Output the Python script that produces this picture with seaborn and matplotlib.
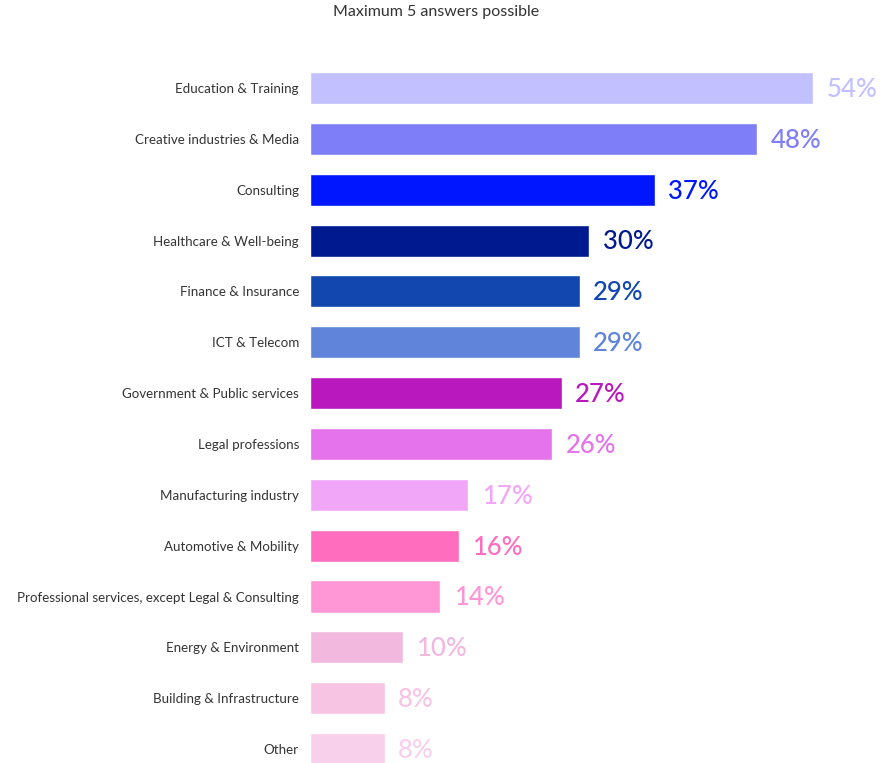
import matplotlib
matplotlib.use("Agg")
import matplotlib.pyplot as plt
import seaborn as sns
import pandas as pd

categories = [
    "Education & Training",
    "Creative industries & Media",
    "Consulting",
    "Healthcare & Well-being",
    "Finance & Insurance",
    "ICT & Telecom",
    "Government & Public services",
    "Legal professions",
    "Manufacturing industry",
    "Automotive & Mobility",
    "Professional services, except Legal & Consulting",
    "Energy & Environment",
    "Building & Infrastructure",
    "Other",
]
shares = [54, 48, 37, 30, 29, 29, 27, 26, 17, 16, 14, 10, 8, 8]
colors = [
    "#C2C0FF", "#7E7EF9", "#0016FF", "#00198F", "#1247B0", "#5F84DA",
    "#B818BE", "#E473EC", "#F2A6F7", "#FF6EBE", "#FF97D7", "#F3B8DE",
    "#F7C4E3", "#F9D0EC",
]
title = "Maximum 5 answers possible"

sns.set_theme(style="white")
plt.rcParams["font.family"] = ["Lato", "DejaVu Sans"]

df = pd.DataFrame({"sector": categories, "share": shares})

W, H = 894, 763
fig = plt.figure(figsize=(W / 100, H / 100), dpi=100)

# axes: zero line at x=310 px, 9.315 px per percentage point, rows 50.85 px apart
px_per_pct = 503 / 54
row = 50.85
top_px = 88 - row / 2
ax = fig.add_axes([310 / W, 0, 1 - 310 / W, 1 - top_px / H])
bottom_cat = -0.5 + (H - top_px) / row

sns.barplot(data=df, y="sector", x="share", hue="sector",
            palette=dict(zip(categories, colors)), orient="h",
            width=0.63, legend=False, saturation=1, ax=ax)

ax.set_xlim(0, (W - 310) / px_per_pct)
ax.set_ylim(bottom_cat, -0.5)
ax.set_xlabel("")
ax.set_ylabel("")
ax.set_xticks([])
for s in ax.spines.values():
    s.set_visible(False)
ax.tick_params(axis="y", length=0, pad=8, labelsize=9.6, labelcolor="#333333")

for i, (v, c) in enumerate(zip(shares, colors)):
    ax.annotate(f"{v}%", (v, i), xytext=(9.5, -1), textcoords="offset points",
                ha="left", va="center", fontsize=18.5, color=c,
                fontweight="medium", clip_on=False)

fig.text(436.5 / W, 1 - 12 / H, title, ha="center", va="center",
         fontsize=11.5, color="#333333")

fig.savefig("out.png", dpi=100)
